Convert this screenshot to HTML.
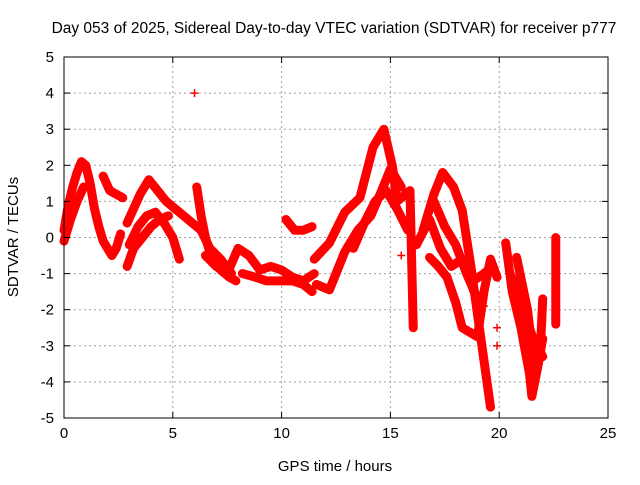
<!DOCTYPE html>
<html><head><meta charset="utf-8"><style>
body{margin:0;background:#fff;font-family:"Liberation Sans",sans-serif}
svg text{font-family:"Liberation Sans",sans-serif;font-size:15px;fill:#000}
</style></head><body>
<svg id="c" width="640" height="480">
<text x="334" y="33" text-anchor="middle" style="font-size:15.5px">Day 053 of 2025, Sidereal Day-to-day VTEC variation (SDTVAR) for receiver p777</text>
<text x="335" y="471" text-anchor="middle">GPS time / hours</text>
<text transform="translate(18,237) rotate(-90)" text-anchor="middle">SDTVAR / TECUs</text>
<g id="grid"></g><g id="marks"></g><g id="axes"></g>
</svg>
<script>
const xTicks=[0,5,10,15,20,25];
const yTicks=[-5,-4,-3,-2,-1,0,1,2,3,4,5];
// tracks: times (hours) and values (TECU)
const tA=[0,0.2,0.4,0.6,0.8,1.0,1.2,1.4,1.6,1.8,2.0,2.2,2.4,2.6];
const vA=[0.2,0.9,1.4,1.8,2.1,2.0,1.5,0.8,0.3,-0.1,-0.3,-0.5,-0.3,0.1];
const tA2=[0,0.3,0.6,0.9];
const vA2=[-0.1,0.5,1.0,1.4];
const tB=[1.8,2.1,2.4,2.7];
const vB=[1.7,1.3,1.2,1.1];
const tC1=[2.9,3.5,3.9,4.3,4.7,5.1,5.5,5.9,6.3,6.7,7.2,7.7];
const vC1=[0.4,1.2,1.6,1.3,1.0,0.8,0.6,0.4,0.2,-0.3,-0.6,-1.0];
const tC2=[3.0,3.4,3.8,4.2,4.6,5.0,5.3];
const vC2=[-0.2,0.3,0.6,0.7,0.4,0.0,-0.6];
const tC3=[2.9,3.2,3.6,4.0,4.4,4.8];
const vC3=[-0.8,-0.3,0.0,0.3,0.5,0.6];
const tD=[6.1,6.3,6.5,6.8,7.2,7.6,7.9];
const vD=[1.4,0.6,0.0,-0.6,-0.9,-1.1,-1.2];
const tE=[6.5,7.0,7.5,8.0,8.5,9.0,9.5,10.0,10.5,11.0,11.5];
const vE=[-0.5,-0.8,-1.0,-0.3,-0.5,-0.9,-0.8,-0.9,-1.1,-1.2,-1.0];
const tF=[8.2,8.8,9.3,9.8,10.5,11.0,11.4];
const vF=[-1.0,-1.1,-1.2,-1.2,-1.2,-1.3,-1.5];
const tG=[10.2,10.6,11.0,11.4];
const vG=[0.5,0.2,0.2,0.3];
const tH=[11.5,12.2,12.9,13.6,14.2,14.7,15.1,15.3,15.9,16.05];
const vH=[-0.6,-0.15,0.7,1.1,2.5,3.0,1.95,1.0,1.3,-2.5];
const tI=[11.6,12.2,12.9,13.5,14.1,14.6,15.0,15.5];
const vI=[-1.3,-1.45,-0.4,0.2,0.6,1.3,1.9,1.4];
const tI2=[13.3,13.8,14.3,14.8,15.3,15.8];
const vI2=[-0.3,0.4,1.0,1.3,0.8,0.2];
const tJ=[16.5,17.0,17.4,17.9,18.3,18.7,19.1,19.6];
const vJ=[0.2,1.2,1.8,1.4,0.75,-0.8,-2.55,-4.7];
const tK=[16.8,17.2,17.6,18.0,18.3,19.0,19.3,19.6,19.9];
const vK=[-0.55,-0.8,-1.1,-1.8,-2.5,-2.75,-1.5,-0.6,-1.1];
const tQ=[16.2,16.8,17.3,17.8,18.3,18.8,19.3,19.7];
const vQ=[-0.2,0.5,-0.3,-0.8,-0.6,-1.2,-1.0,-0.8];
const tR=[17.0,17.5,18.0,18.5,19.0];
const vR=[1.0,0.3,-0.2,-1.0,-1.7];
const tL=[20.3,20.6,21.0,21.4,21.5,21.8,22.0];
const vL=[-0.15,-1.5,-2.5,-3.8,-4.4,-3.5,-2.8];
const tM=[20.8,21.3,21.6,21.9,22.0];
const vM=[-0.55,-2.0,-3.5,-3.0,-1.7];
const tS=[20.5,21.0,21.5,22.0];
const vS=[-1.0,-1.8,-2.7,-3.3];
const tN=[22.6,22.6,22.6];
const vN=[0.0,-1.2,-2.4];
const tP=[6.0,19.9,19.9,15.5,18.8,19.3];
const vP=[4.0,-2.5,-3.0,-0.5,-1.5,-1.9];
const tracks=[[tA,vA],[tA2,vA2],[tB,vB],[tC1,vC1],[tC2,vC2],[tC3,vC3],[tD,vD],[tE,vE],[tF,vF],[tG,vG],[tH,vH],[tI,vI],[tI2,vI2],[tJ,vJ],[tK,vK],[tQ,vQ],[tR,vR],[tL,vL],[tM,vM],[tS,vS],[tN,vN]];
const X0=64,X1=608,Y0=418,Y1=57;
const xs=t=>X0+(t-0)/(25-0)*(X1-X0);
const ys=v=>Y0-(v+5)/10*(Y0-Y1);
const NS='http://www.w3.org/2000/svg';
const mk=(tag,a,p)=>{const e=document.createElementNS(NS,tag);for(const k in a)e.setAttribute(k,a[k]);p.appendChild(e);return e;};
const grid=document.getElementById('grid'),marks=document.getElementById('marks'),axes=document.getElementById('axes');
xTicks.forEach(t=>{
 if(t>0&&t<25){const g=mk('line',{x1:xs(t),x2:xs(t),y1:Y0,y2:Y1,stroke:'#a0a0a0','stroke-dasharray':'2,3'},grid);
 
 }
 const l=mk('text',{x:xs(t),y:Y0+20,'text-anchor':'middle'},axes);l.textContent=t;
 
 
 mk('line',{x1:xs(t),x2:xs(t),y1:Y0,y2:Y0-6,stroke:'#000'},axes);
 mk('line',{x1:xs(t),x2:xs(t),y1:Y1,y2:Y1+6,stroke:'#000'},axes);
});
yTicks.forEach(v=>{
 if(v>-5&&v<5){const g=mk('line',{x1:X0,x2:X1,y1:ys(v),y2:ys(v),stroke:'#a0a0a0','stroke-dasharray':'2,3'},grid);
 
 }
 const l=mk('text',{x:X0-10,y:ys(v)+5,'text-anchor':'end'},axes);l.textContent=v;
 
 
 mk('line',{x1:X0,x2:X0+6,y1:ys(v),y2:ys(v),stroke:'#000'},axes);
 mk('line',{x1:X1,x2:X1-6,y1:ys(v),y2:ys(v),stroke:'#000'},axes);
});
const fr=mk('rect',{x:X0,y:Y1,width:X1-X0,height:Y0-Y1,fill:'none',stroke:'#000'},axes);


function plus(t,v){
 const p=mk('path',{d:`M${xs(t)-4},${ys(v)}h8M${xs(t)},${ys(v)-4}v8`,stroke:'#f00','stroke-width':1.5},marks);
 
 
}
tracks.forEach(([T,V])=>{
 const pl=mk('polyline',{points:T.map((t,i)=>xs(t)+','+ys(V[i])).join(' '),fill:'none',stroke:'#f00','stroke-width':9,'stroke-linejoin':'round','stroke-linecap':'round'},marks);
 
 
 T.forEach((t,i)=>plus(t,V[i]));
});
tP.forEach((t,i)=>plus(t,vP[i]));
</script>
</body></html>
